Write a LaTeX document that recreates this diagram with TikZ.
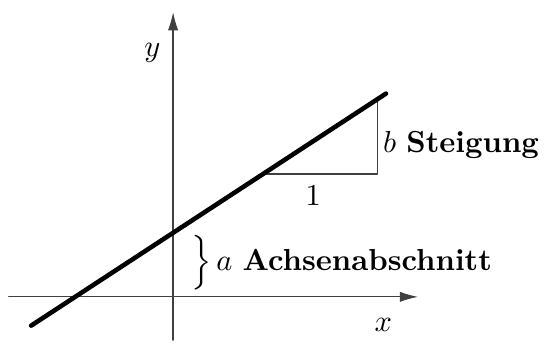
\documentclass[tikz,border=0pt]{standalone}
\usetikzlibrary{arrows.meta}

\begin{document}
\begin{tikzpicture}[
  line cap=round,
  line join=round,
  axis/.style={black!75,-{Latex[length=6pt,width=3.4pt]}},
  label/.style={inner sep=0pt}
]
  % Gerade y = a + b x
  \def\slope{0.654}
  \def\intercept{0.74}

  \useasboundingbox (-2.0,-0.65) rectangle (4.32,3.43);

  \coordinate (O) at (0,0);
  \coordinate (XL) at (-1.90,0);
  \coordinate (XR) at (2.83,0);
  \coordinate (YB) at (0,-0.50);
  \coordinate (YT) at (0,3.29);
  \coordinate (A) at (0,\intercept);
  \coordinate (P) at (-1.64,{\intercept-1.64*\slope});
  \coordinate (Q) at (2.46,{\intercept+2.46*\slope});

  % Dreieck fuer die Steigung
  \coordinate (T1) at ({(1.42-\intercept)/\slope},1.42);
  \coordinate (T2) at (2.36,1.42);
  \coordinate (T3) at (2.36,{\intercept+2.36*\slope});

  % Achsen
  \draw[axis] (XL) -- (XR);
  \draw[axis] (YB) -- (YT);

  \node[label] (xlab) at (2.43,-0.32) {$x$};
  \node[label] (ylab) at (-0.24,2.82) {$y$};

  % Dreieck
  \draw[black!75] (T1) -- (T2) -- (T3);

  \node[label] (eins) at (1.62,1.17) {$1$};
  \node[label,anchor=base west] (steig) at (2.42,1.67)
    {$b$ \textbf{Steigung}};

  % Achsenabschnitt
  \node[label,anchor=base west] (achse) at (0.20,0.31)
    {$\Big\}\,a$ \textbf{Achsenabschnitt}};

  % Gerade
  \draw[line width=1.5pt] (P) -- (Q);
\end{tikzpicture}
\end{document}
